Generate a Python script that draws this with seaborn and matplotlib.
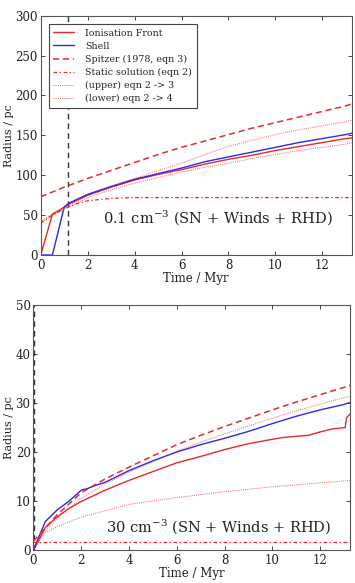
import matplotlib
matplotlib.use("Agg")
import matplotlib.pyplot as plt
import seaborn as sns
import pandas as pd

sns.set_style("ticks")
plt.rcParams['font.family'] = ['DejaVu Serif']
plt.rcParams['mathtext.fontset'] = 'dejavuserif'

# ---------------- top panel (0.1 cm^-3) ----------------
t_top = [0, 0.5, 1.0, 1.2, 2, 3, 4, 5, 6, 7, 8, 9, 10, 11, 12, 13, 13.3]
top_if = [0, 51, 60, 64, 75, 85, 94, 101, 107, 114, 120, 125, 131, 136, 141, 146, 147]
top_shell = [0, 0, 60, 65, 76, 86, 95, 102, 109, 117, 123, 129, 135, 141, 146, 151, 153]
top_upper = [42, 52, 59, 62, 74, 86, 96, 106, 115, 126, 136, 144, 151, 157, 162, 167, 169]
top_lower = [40, 50, 57, 60, 72, 82, 90, 97, 104, 110, 115, 121, 126, 131, 135, 139, 141]
t_top_sp = [0, 1, 2, 3, 4, 5, 6, 7, 8, 9, 10, 11, 12, 13, 13.3]
top_spitzer = [73, 85, 96, 106, 116, 126, 135, 143, 151, 159, 166, 173, 180, 187, 190]
t_top_st = [0, 0.5, 1, 1.5, 2, 3, 4, 6, 8, 10, 12, 13.3]
top_static = [40, 50, 58, 64, 68, 71, 72, 72, 72, 72, 72, 72]
top_tvline = 1.18

# ---------------- bottom panel (30 cm^-3) ----------------
t_bot_if = [0, 0.5, 1, 1.5, 2, 3, 4, 5, 6, 7, 8, 9, 10, 10.5, 11, 11.5, 12, 12.5, 13.05, 13.1, 13.3]
bot_if = [0, 4.6, 6.8, 8.5, 9.9, 12.2, 14.2, 16, 17.8, 19.1, 20.5, 21.7, 22.6, 23.0, 23.2, 23.4, 24.1, 24.7, 25, 27, 28]
t_bot_sh = [0, 0.5, 1, 1.5, 2, 2.3, 2.6, 3, 4, 5, 6, 7, 8, 9, 10, 11, 12, 13, 13.3]
bot_shell = [0, 5.8, 8.2, 10, 12.2, 12.6, 13.2, 13.8, 16.2, 18.2, 20, 21.5, 22.8, 24.2, 25.8, 27.3, 28.6, 29.7, 30.2]
t_bot = [0, 0.5, 1, 2, 3, 4, 5, 6, 7, 8, 9, 10, 11, 12, 13, 13.3]
bot_spitzer = [1.8, 4.5, 7.2, 11.7, 14.5, 16.9, 19.2, 21.5, 23.4, 25.2, 26.9, 28.6, 30.2, 31.7, 33.2, 33.7]
bot_upper = [0, 4.0, 6.5, 10.5, 13.5, 15.9, 18.0, 20.2, 22.0, 23.7, 25.3, 26.9, 28.4, 29.8, 31.1, 31.4]
bot_lower = [0, 3.6, 4.8, 6.7, 8.0, 9.3, 10.0, 10.7, 11.3, 11.9, 12.4, 12.9, 13.3, 13.7, 14.1, 14.2]
t_bot_st = [0, 13.3]
bot_static = [1.7, 1.7]
bot_tvline = 0.02

labels = ["Ionisation Front", "Shell", "Spitzer (1978, eqn 3)",
          "Static solution (eqn 2)", "(upper) eqn 2 -> 3", "(lower) eqn 2 -> 4"]

RED = "#e8282c"
BLUE = "#2a2ae8"

fig = plt.figure(figsize=(3.55, 5.83), dpi=100)
ax1 = fig.add_axes([0.1146, 0.5626, 0.8761, 0.4104])
ax2 = fig.add_axes([0.0940, 0.0566, 0.8920, 0.4202])


def draw(ax, t_if, r_if, t_sh, r_sh, t_sp, r_sp, t_st, r_st, t_u, r_u, t_l, r_l, legend):
    sns.lineplot(x=t_if, y=r_if, ax=ax, color=RED, lw=1.0, label=labels[0] if legend else None)
    sns.lineplot(x=t_sh, y=r_sh, ax=ax, color=BLUE, lw=1.0, label=labels[1] if legend else None)
    sns.lineplot(x=t_sp, y=r_sp, ax=ax, color=RED, lw=1.1, ls=(0, (4, 2.5)), label=labels[2] if legend else None)
    sns.lineplot(x=t_st, y=r_st, ax=ax, color=RED, lw=0.9, ls=(0, (3, 2, 1, 2)), label=labels[3] if legend else None)
    sns.lineplot(x=t_u, y=r_u, ax=ax, color=RED, lw=0.7, ls=(0, (1, 1.2)), alpha=0.75, label=labels[4] if legend else None)
    sns.lineplot(x=t_l, y=r_l, ax=ax, color=RED, lw=0.7, ls=(0, (1, 1.2)), alpha=0.75, label=labels[5] if legend else None)


draw(ax1, t_top, top_if, t_top, top_shell, t_top_sp, top_spitzer, t_top_st, top_static,
     t_top, top_upper, t_top, top_lower, True)
ax1.axvline(top_tvline, color="#333333", lw=1.0, ls=(0, (4, 3)), zorder=1)
draw(ax2, t_bot_if, bot_if, t_bot_sh, bot_shell, t_bot, bot_spitzer, t_bot_st, bot_static,
     t_bot, bot_upper, t_bot, bot_lower, False)
ax2.axvline(bot_tvline, color="#333333", lw=1.0, ls=(0, (4, 3)), zorder=1)

ax1.set_ylim(0, 300)
ax2.set_ylim(0, 50)
ax1.set_yticks([0, 50, 100, 150, 200, 250, 300])
ax2.set_yticks([0, 10, 20, 30, 40, 50])
for ax in (ax1, ax2):
    ax.set_xlim(0, 13.25)
    ax.set_xticks([0, 2, 4, 6, 8, 10, 12])
    ax.tick_params(direction="in", top=True, right=True, length=3, width=0.6,
                   labelsize=8.5, colors="#222222")
    ax.tick_params(axis="x", pad=3)
    ax.tick_params(axis="y", pad=2)
    for s in ax.spines.values():
        s.set_color("#555555")
        s.set_linewidth(0.8)
    ax.set_xlabel("Time / Myr", fontsize=8.5, labelpad=0, color="#222222")
    ax.set_ylabel("Radius / pc", fontsize=8, color="#222222")

ax1.yaxis.set_label_coords(-0.087, 0.5)
ax2.yaxis.set_label_coords(-0.062, 0.5)

ax1.text(0.94, 0.155, r"0.1 cm$^{-3}$ (SN + Winds + RHD)", transform=ax1.transAxes,
         ha="right", va="center", fontsize=10.5, color="#222222")
ax2.text(0.94, 0.095, r"30 cm$^{-3}$ (SN + Winds + RHD)", transform=ax2.transAxes,
         ha="right", va="center", fontsize=10.5, color="#222222")

leg = ax1.legend(loc="upper left", fontsize=6.8, frameon=True, fancybox=False,
                 handlelength=2.2, handletextpad=1.2, borderpad=0.5, labelspacing=0.42,
                 bbox_to_anchor=(0.01, 0.985))
leg.get_frame().set_edgecolor("#444444")
leg.get_frame().set_linewidth(0.8)
leg.get_frame().set_alpha(1)

fig.savefig("out.png", dpi=100)
